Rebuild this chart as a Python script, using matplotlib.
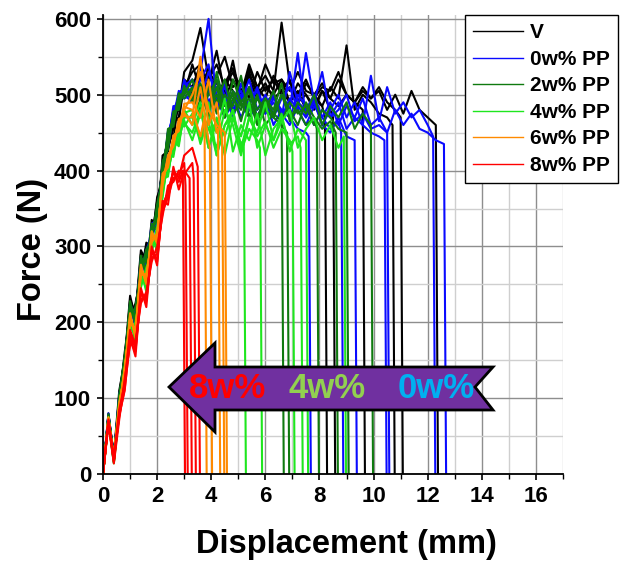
import numpy as np
import matplotlib
matplotlib.use("Agg")
import matplotlib.pyplot as plt
from matplotlib.patches import Polygon
from matplotlib.ticker import MultipleLocator

plt.rcParams['font.family'] = ['Liberation Sans', 'DejaVu Sans']
plt.rcParams['font.weight'] = 'bold'

# displacement sampling (mm): fine steps on the rising part, coarser on the plateau
X_RISE = [0.0, 0.2, 0.4, 0.6, 0.8, 1.0, 1.2, 1.4, 1.6, 1.8, 2.0, 2.2, 2.4, 2.6, 2.8, 3.0]
X_PLAT = [float(v) for v in np.round(np.arange(3.3, 12.61, 0.3), 2)]
GRID = X_RISE + X_PLAT

LABELS = ["V", "0w% PP", "2w% PP", "4w% PP", "6w% PP", "8w% PP"]
COLORS = ["black", "#0a0aff", "#0f7a0f", "#1ee61e", "#ff8a00", "#ff0000"]

# failure displacement (mm) of each specimen
V_FAIL = [12.3, 11.0, 10.7, 9.6, 8.2, 8.5]
B_FAIL = [12.6, 12.2, 10.5, 10.4, 9.3, 7.6, 8.8]
G2_FAIL = [9.9, 9.0, 8.6, 7.9, 6.8, 6.6]
G4_FAIL = [8.9, 7.5, 7.3, 7.0, 5.8, 5.2]
O_FAIL = [4.5, 4.4, 4.25, 3.95, 3.75]
R_FAIL = [3.5, 3.35, 3.2, 3.05, 2.95]

# force (N) on X_RISE
V_RISE = [
    [0, 78, 25, 110, 150, 235, 205, 290, 270, 325, 330, 410, 440, 470, 480, 530],
    [0, 72, 18, 95, 160, 215, 220, 270, 300, 310, 360, 395, 430, 455, 500, 510],
    [0, 80, 22, 100, 140, 225, 195, 285, 265, 335, 320, 420, 425, 465, 470, 520],
    [0, 76, 20, 105, 155, 205, 225, 260, 305, 300, 365, 385, 450, 440, 495, 500],
    [0, 74, 24, 90, 145, 230, 210, 295, 280, 320, 345, 405, 435, 475, 465, 515],
    [0, 77, 21, 98, 150, 220, 215, 280, 290, 315, 350, 400, 445, 460, 485, 505],
]
B_RISE = [
    [0, 75, 18, 100, 145, 215, 200, 275, 265, 320, 330, 400, 440, 480, 495, 510],
    [0, 78, 22, 92, 150, 205, 215, 265, 285, 310, 345, 390, 450, 470, 505, 500],
    [0, 72, 16, 105, 140, 220, 195, 280, 270, 325, 325, 410, 430, 475, 490, 515],
    [0, 80, 20, 96, 152, 210, 210, 270, 290, 305, 350, 395, 445, 465, 500, 505],
    [0, 74, 24, 102, 138, 225, 205, 285, 275, 330, 335, 405, 435, 485, 485, 520],
    [0, 76, 19, 94, 148, 212, 218, 262, 295, 315, 340, 388, 452, 462, 498, 495],
    [0, 73, 21, 99, 143, 218, 198, 278, 268, 322, 328, 402, 438, 478, 492, 512],
]
G2_RISE = [
    [0, 76, 20, 102, 148, 220, 200, 282, 268, 322, 335, 405, 438, 470, 488, 505],
    [0, 74, 18, 95, 155, 210, 212, 270, 288, 312, 348, 392, 448, 462, 498, 500],
    [0, 79, 23, 98, 142, 228, 196, 288, 262, 330, 322, 412, 428, 478, 480, 512],
    [0, 72, 17, 104, 150, 206, 220, 266, 296, 308, 356, 388, 455, 458, 502, 495],
    [0, 77, 21, 92, 146, 224, 204, 276, 274, 326, 338, 400, 442, 472, 486, 508],
    [0, 75, 19, 100, 153, 214, 208, 272, 282, 316, 344, 396, 446, 466, 494, 502],
]
G4_RISE = [
    [0, 70, 15, 85, 130, 200, 180, 260, 250, 310, 300, 380, 400, 430, 440, 470],
    [0, 73, 18, 90, 138, 192, 196, 250, 268, 296, 322, 368, 415, 422, 455, 462],
    [0, 68, 14, 80, 124, 206, 176, 266, 244, 316, 296, 386, 396, 436, 436, 476],
    [0, 75, 20, 88, 134, 196, 188, 254, 262, 302, 314, 374, 408, 426, 448, 466],
    [0, 71, 16, 95, 128, 210, 172, 270, 240, 320, 292, 390, 392, 440, 432, 480],
    [0, 69, 17, 83, 140, 188, 200, 246, 272, 292, 326, 364, 420, 418, 460, 458],
]
O_RISE = [
    [0, 72, 20, 90, 135, 205, 185, 270, 255, 315, 310, 390, 410, 440, 460, 480],
    [0, 75, 17, 86, 140, 198, 192, 262, 264, 305, 318, 380, 420, 432, 468, 472],
    [0, 70, 22, 94, 130, 212, 180, 276, 250, 320, 304, 396, 404, 446, 452, 488],
    [0, 74, 19, 88, 138, 202, 190, 266, 260, 310, 314, 384, 416, 436, 464, 476],
    [0, 71, 21, 92, 132, 208, 182, 272, 252, 318, 306, 392, 406, 444, 456, 484],
]
R_RISE = [
    [0, 70, 18, 80, 120, 185, 165, 240, 230, 295, 280, 355, 370, 400, 390, 420],
    [0, 66, 14, 72, 125, 170, 175, 225, 240, 280, 300, 340, 380, 385, 400, 395],
    [0, 72, 20, 78, 110, 180, 155, 245, 220, 300, 275, 360, 355, 405, 375, 400],
    [0, 68, 16, 85, 118, 190, 170, 230, 235, 285, 290, 345, 365, 390, 395, 410],
    [0, 70, 22, 76, 112, 175, 162, 238, 228, 292, 283, 352, 372, 398, 385, 400],
]

# force (N) on X_PLAT, up to failure
V_PLAT = [
    [545, 588, 520, 540, 510, 530, 500, 525, 505, 540, 515, 520, 505, 530, 505, 500, 515, 495, 520, 500,
     490, 510, 495, 505, 480, 500, 475, 505, 480, 470, 460],
    [530, 540, 515, 558, 500, 545, 490, 535, 510, 525, 505, 595, 515, 500, 520, 495, 510, 505, 530, 500,
     490, 505, 495, 510, 490, 480, 470],
    [510, 540, 500, 525, 550, 510, 520, 495, 530, 505, 520, 500, 510, 490, 515, 500, 485, 510, 495, 565,
     480, 500, 490, 475, 470, 460],
    [540, 505, 530, 515, 495, 520, 500, 540, 510, 495, 525, 505, 490, 515, 500, 480, 505, 495, 485, 500,
     490, 480],
    [500, 525, 510, 490, 515, 535, 505, 520, 495, 510, 500, 520, 490, 505, 480, 495, 485, 470],
    [520, 500, 535, 495, 520, 505, 490, 530, 500, 515, 495, 505, 520, 490, 500, 485, 505, 480, 470],
]
B_PLAT = [
    [505, 530, 600, 490, 510, 480, 500, 470, 495, 480, 500, 470, 530, 490, 480, 500, 470, 490, 460, 485,
     470, 495, 460, 470, 450, 480, 460, 475, 455, 450, 440, 435],
    [490, 520, 540, 480, 500, 470, 515, 485, 470, 495, 475, 500, 480, 555, 470, 490, 460, 480, 500, 470,
     490, 460, 525, 465, 510, 475, 490, 470, 480, 460, 445],
    [510, 495, 530, 500, 475, 505, 490, 520, 480, 500, 470, 495, 510, 480, 555, 490, 530, 470, 480, 500,
     465, 475, 455, 460, 450],
    [500, 530, 490, 510, 485, 500, 470, 490, 505, 475, 495, 480, 470, 500, 485, 460, 480, 470, 490, 455,
     470, 460, 450, 445, 440],
    [495, 510, 485, 520, 500, 480, 495, 510, 470, 490, 500, 475, 460, 485, 470, 495, 460, 450, 470, 445, 440],
    [500, 480, 510, 495, 470, 490, 505, 480, 470, 495, 460, 480, 470, 455, 450, 445],
    [520, 490, 505, 480, 515, 470, 500, 485, 510, 475, 490, 470, 495, 480, 460, 485, 470, 455, 465, 450],
]
G2_PLAT = [
    [500, 530, 480, 510, 470, 520, 490, 505, 470, 495, 480, 515, 465, 490, 475, 500, 460, 485, 470, 490,
     455, 475, 460],
    [520, 490, 515, 475, 500, 485, 525, 470, 495, 480, 505, 465, 490, 475, 485, 460, 480, 470, 455, 450],
    [490, 510, 470, 530, 485, 500, 465, 510, 480, 495, 470, 500, 480, 460, 490, 470, 455, 465, 450],
    [510, 480, 500, 520, 470, 495, 480, 510, 465, 490, 475, 500, 470, 480, 460, 470, 455],
    [495, 515, 480, 500, 470, 505, 485, 495, 460, 480, 470, 460, 450],
    [505, 470, 510, 490, 520, 475, 490, 470, 500, 460, 475, 465],
]
G4_PLAT = [
    [470, 440, 490, 420, 460, 480, 430, 470, 450, 490, 440, 465, 480, 430, 455, 470, 440, 460, 430, 445],
    [450, 480, 430, 465, 420, 470, 445, 490, 430, 460, 440, 475, 425, 455, 440],
    [480, 435, 470, 450, 495, 425, 460, 440, 475, 420, 455, 470, 435, 445, 430],
    [440, 475, 455, 430, 480, 460, 420, 470, 445, 465, 430, 455, 440, 425],
    [460, 490, 430, 470, 445, 480, 425, 455, 440, 430],
    [475, 445, 465, 420, 460, 470, 435, 440],
]
O_PLAT = [
    [500, 530, 480, 460, 450],
    [470, 550, 460, 490, 440],
    [490, 470, 520, 450, 455],
    [460, 510, 440, 430],
    [480, 445, 470],
]
R_PLAT = [
    [430, 405],
    [410, 390],
    [390],
    [380],
    [],
]


def trace(fail, rise, plat):
    ys = rise + plat
    n = sum(1 for x in GRID if x < fail - 1e-9)
    xs = GRID[:n] + [fail, fail + 0.08]
    y_end = ys[n] if len(ys) > n else ys[-1]
    return xs, ys[:n] + [y_end, 0]


groups = [
    (V_FAIL, V_RISE, V_PLAT),
    (B_FAIL, B_RISE, B_PLAT),
    (G2_FAIL, G2_RISE, G2_PLAT),
    (G4_FAIL, G4_RISE, G4_PLAT),
    (O_FAIL, O_RISE, O_PLAT),
    (R_FAIL, R_RISE, R_PLAT),
]

fig = plt.figure(figsize=(6.34, 5.63), dpi=100)
ax = fig.add_axes([0.1625, 0.158, 0.7255, 0.8153])

handles = []
for (fails, rises, plats), label, color in zip(groups, LABELS, COLORS):
    for i, (f, r, p) in enumerate(zip(fails, rises, plats)):
        xs, ys = trace(f, r, p)
        line, = ax.plot(xs, ys, color=color, lw=1.5, solid_joinstyle='round')
        if i == 0:
            handles.append(line)

ax.set_xlim(0, 17)
ax.set_ylim(0, 605)
ax.xaxis.set_major_locator(MultipleLocator(2))
ax.xaxis.set_minor_locator(MultipleLocator(1))
ax.yaxis.set_major_locator(MultipleLocator(100))
ax.yaxis.set_minor_locator(MultipleLocator(50))
ax.grid(which='major', color='#8e8e8e', lw=1.0)
ax.grid(which='minor', color='#cfcfcf', lw=1.0)
ax.set_axisbelow(True)

for s in ['top', 'right']:
    ax.spines[s].set_visible(False)
for s in ['left', 'bottom']:
    ax.spines[s].set_linewidth(1.3)

ax.tick_params(which='major', direction='out', length=4.5, width=1.2, labelsize=16, pad=4)
ax.tick_params(which='minor', direction='out', length=3.5, width=1.0)
for t in ax.get_xticklabels() + ax.get_yticklabels():
    t.set_fontweight('bold')

ax.set_xlabel("Displacement (mm)", fontsize=23.5, fontweight='bold')
ax.set_ylabel("Force (N)", fontsize=23.5, fontweight='bold')
ax.xaxis.set_label_coords(0.53, -0.12)
ax.yaxis.set_label_coords(-0.12, 0.49)

leg = ax.legend(handles, LABELS, loc='upper left', bbox_to_anchor=(465 / 634, 1 - 15 / 563),
                bbox_transform=fig.transFigure, frameon=True, fancybox=False, edgecolor='black',
                framealpha=1, fontsize=15, handlelength=2.4, handletextpad=0.3, labelspacing=0.36,
                borderpad=0.4, borderaxespad=0)
leg.get_frame().set_linewidth(1.0)
for t in leg.get_texts():
    t.set_fontweight('bold')
for h in leg.get_lines():
    h.set_linewidth(1.0)

# trend arrow (figure pixel coordinates)
W, H = 634, 563
arrow_px = [(169, 387), (215, 343), (215, 367), (493, 367), (475, 387), (493, 410), (215, 410), (215, 432)]
arrow = Polygon([(x / W, 1 - y / H) for x, y in arrow_px], closed=True, transform=fig.transFigure,
                facecolor='#7030a0', edgecolor='black', lw=2.0, zorder=10)
fig.add_artist(arrow)
for txt, xc, col in [("8w%", 228, '#ff0000'), ("4w%", 327, '#92d050'), ("0w%", 436, '#00b0f0')]:
    fig.text(xc / W, 1 - 389 / H, txt, color=col, fontsize=25, fontweight='bold',
             ha='center', va='center', zorder=11)

fig.savefig("out.png", dpi=100)
